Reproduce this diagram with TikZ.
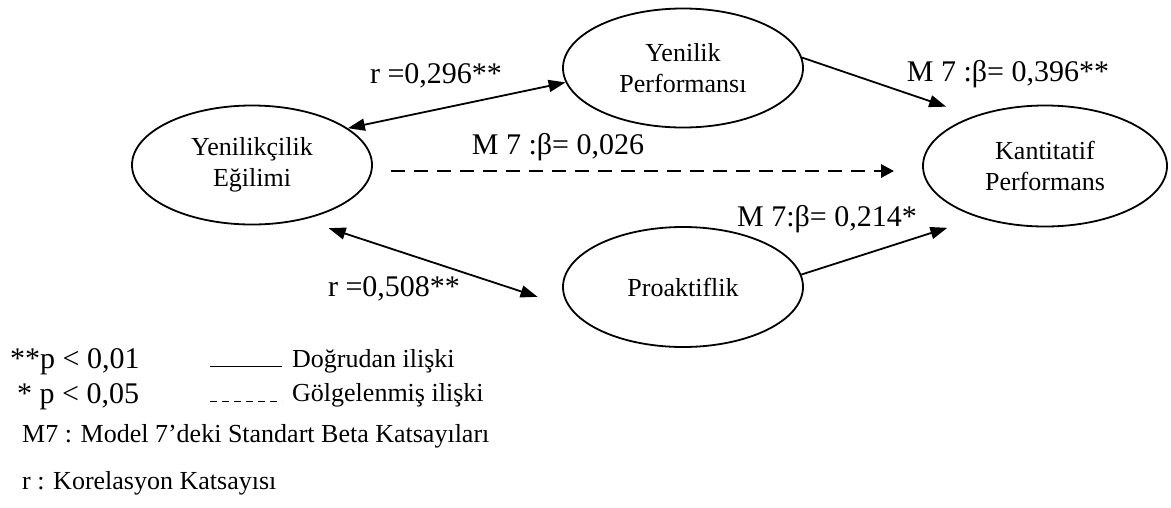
\documentclass[tikz,border=0pt]{standalone}
\usepackage{fontspec}
\setmainfont{Liberation Serif}
\usetikzlibrary{shapes.geometric, positioning, arrows.meta}
\tikzstyle{construct}=[
ellipse,
draw,
line width=1.8pt,
inner sep=0pt,
minimum width=240pt,
minimum height=119pt,
align=center,
font=\fontsize{26}{31}\selectfont,
]
\tikzstyle{coef}=[
font=\fontsize{30}{36}\selectfont,
inner sep=0pt,
]
\tikzstyle{legend-item}=[
font=\fontsize{26}{31}\selectfont,
inner sep=0pt,
anchor=west,
]
\tikzstyle{path-arrow}=[
line width=1.8pt,
-{Triangle[length=17pt,width=12pt]},
]
\tikzstyle{corr-arrow}=[
line width=1.8pt,
{Triangle[length=17pt,width=12pt]}-{Triangle[length=17pt,width=12pt]},
]

\begin{document}
\begin{tikzpicture}[x=1pt, y=-1pt]
        \useasboundingbox (0,0) rectangle (1171,507);

        % constructs
        \node[construct] (egilim) at (252,165) {Yenilikçilik\\Eğilimi};
        \node[construct] (yenilik) at (683,68) {Yenilik\\Performansı};
        \node[construct, minimum width=244pt, minimum height=121pt] (kantitatif) at (1045,166) {Kantitatif\\Performans};
        \node[construct, minimum height=120pt] (proaktif) at (683,287) {Proaktiflik};

        % paths
        \draw[corr-arrow] (egilim.21) -- (yenilik.187);
        \draw[path-arrow, shorten >=29pt] (yenilik.5) -- (kantitatif.145);
        \draw[path-arrow, shorten >=33pt] (proaktif.6) -- (kantitatif.218);
        \draw[corr-arrow, shorten <=27pt, shorten >=33pt] (egilim.313) -- (proaktif.190);
        \draw[line width=2.8pt, dash pattern=on 14pt off 9pt, -{Triangle[length=13pt,width=13pt]},
          shorten <=18pt, shorten >=28pt] ([yshift=-6pt]egilim.east) -- ([yshift=-5pt]kantitatif.west);

        % coefficients
        \node[coef] (r1) at (436,76) {r =0,296**};
        \node[coef] (b1) at (1008,74) {M 7 :β= 0,396**};
        \node[coef] (b0) at (558,147) {M 7 :β= 0,026};
        \node[coef] (b2) at (827,219) {M 7:β= 0,214*};
        \node[coef] (r2) at (394,289) {r =0,508**};

        % legend
        \node[legend-item, font=\fontsize{30}{36}\selectfont] (pone) at (10,362) {**p < 0,01};
        \node[legend-item, font=\fontsize{30}{36}\selectfont] (pfive) at (17,397) {* p < 0,05};
        \node[legend-item] (direct) at (292,361) {Doğrudan ilişki};
        \node[legend-item] (shadow) at (292,395) {Gölgelenmiş ilişki};
        \node[legend-item] (mseven) at (22,436) {M7 : Model 7’deki Standart Beta Katsayıları};
        \node[legend-item] (rnote) at (22,483) {r : Korelasyon Katsayısı};
        \draw[line width=1pt] ([xshift=-82pt, yshift=-5pt]direct.west) -- ([xshift=-10pt, yshift=-5pt]direct.west);
        \draw[line width=1pt, dash pattern=on 7pt off 5pt] ([xshift=-82pt, yshift=-6pt]shadow.west) -- ([xshift=-10pt, yshift=-6pt]shadow.west);
\end{tikzpicture}
\end{document}
